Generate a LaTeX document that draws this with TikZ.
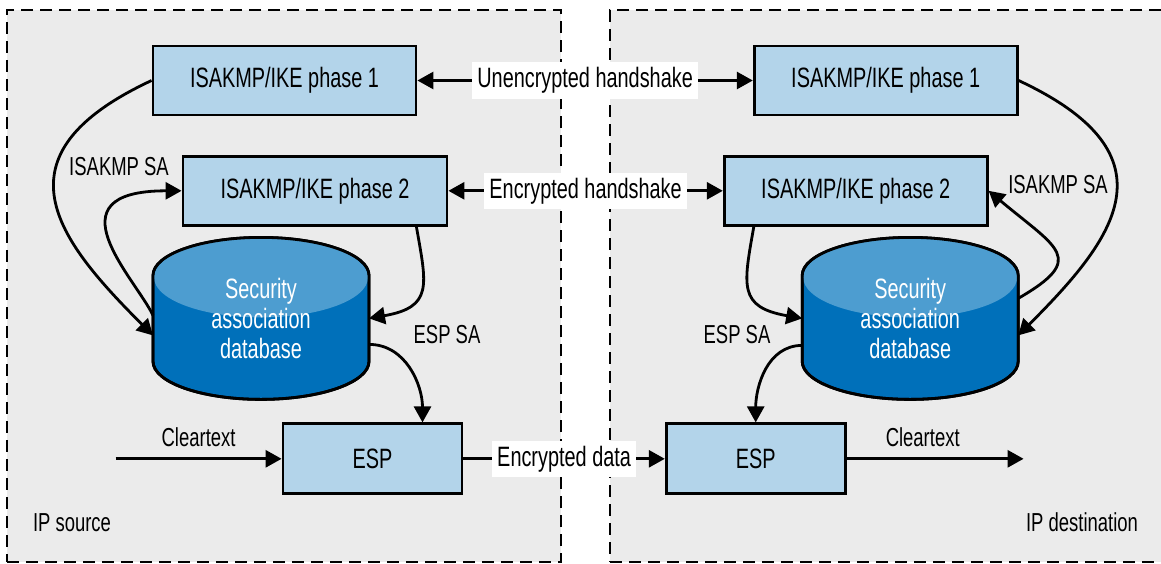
\documentclass[tikz,border=0pt]{standalone}
\usepackage{fontspec}
\setmainfont{Liberation Sans}[FakeStretch=0.71]
\usetikzlibrary{arrows.meta, positioning, backgrounds, calc}

\definecolor{zonegray}{RGB}{235,235,235}
\definecolor{boxblue}{RGB}{179,212,234}
\definecolor{dbdark}{RGB}{0,112,186}
\definecolor{dblight}{RGB}{77,157,208}

% database drum drawn round a named node
\newcommand{\drawdrum}[1]{%
    \filldraw[fill=dbdark, line width=2.8pt] ([yshift=-38pt]#1.north west) -- ([yshift=38pt]#1.south west)
        arc[start angle=180, end angle=360, x radius=108pt, y radius=38pt]
        -- ([yshift=-38pt]#1.north east)
        arc[start angle=0, end angle=180, x radius=108pt, y radius=38pt] -- cycle;
    \fill[dblight] ([yshift=-40pt]#1.north) ellipse[x radius=107pt, y radius=40pt];
    \draw[line width=2.8pt] ([yshift=-38pt]#1.north west) -- ([yshift=38pt]#1.south west)
        arc[start angle=180, end angle=360, x radius=108pt, y radius=38pt]
        -- ([yshift=-38pt]#1.north east)
        arc[start angle=0, end angle=180, x radius=108pt, y radius=38pt] -- cycle;
}

\begin{document}
\begin{tikzpicture}[
    % --- STYLES ---
    base/.style={font=\fontsize{28pt}{30pt}\selectfont},
    block/.style={base, draw, line width=2.8pt, fill=boxblue, minimum width=263pt, minimum height=69pt},
    espbox/.style={block, minimum width=179pt, minimum height=70pt},
    drum/.style={base, text=white, align=center, minimum width=216pt, minimum height=162pt, outer sep=0pt},
    zone/.style={draw, fill=zonegray, line width=1.3pt, dash pattern=on 12pt off 7pt},
    tag/.style={base, fill=white, inner xsep=5pt, inner ysep=5pt},
    lbl/.style={font=\fontsize{26pt}{28pt}\selectfont},
    arrow/.style={->, >={Triangle[length=16pt, width=17pt]}, line width=2.8pt},
    dbl arrow/.style={arrow, <->}
]
    \useasboundingbox (0,0) rectangle (1161pt,-563pt);

    % --- NODES ---

    % IP source side
    \node[block] (phase1L) at (284.5pt,-80.5pt) {ISAKMP/IKE phase 1};
    \node[block, below=38.5pt of phase1L, xshift=30.5pt, minimum width=264pt] (phase2L) {ISAKMP/IKE phase 2};
    \node[drum, below=121pt of phase1L, xshift=-23.5pt] (dbL) {Security\\association\\database};
    \node[espbox, below=23pt of dbL, xshift=111.5pt] (espL) {ESP};
    \coordinate[left=166pt of espL] (clearin);

    % IP destination side
    \node[block, right=335.4pt of phase1L] (phase1R) {ISAKMP/IKE phase 1};
    \node[block, right=274.4pt of phase2L] (phase2R) {ISAKMP/IKE phase 2};
    \node[drum, below=121pt of phase1R, xshift=24.5pt] (dbR) {Security\\association\\database};
    \node[espbox, right=201.4pt of espL] (espR) {ESP};
    \coordinate[right=177pt of espR] (clearout);

    % loose labels
    \node[lbl, anchor=base] (isakmpL) at (119pt,-175pt) {ISAKMP SA};
    \node[lbl, anchor=base] (isakmpR) at (1058pt,-193pt) {ISAKMP SA};
    \node[lbl, anchor=base] (espsaL) at (447pt,-343pt) {ESP SA};
    \node[lbl, anchor=base] (espsaR) at (737pt,-343pt) {ESP SA};
    \node[lbl, anchor=base] (srclbl) at (72pt,-531pt) {IP source};
    \node[lbl, anchor=base] (dstlbl) at (1082pt,-531pt) {IP destination};

    % --- ZONES AND DRUMS ---
    \begin{scope}[on background layer]
        \node[zone, minimum width=554pt, minimum height=552pt] (srczone) at (284pt,-286pt) {};
        \node[zone, minimum width=560pt, minimum height=552pt] (dstzone) at (890pt,-286pt) {};
        \drawdrum{dbL}
        \drawdrum{dbR}
    \end{scope}

    % --- HANDSHAKES ---
    \draw[dbl arrow] (phase1L) -- node[tag] {Unencrypted handshake} (phase1R);
    \draw[dbl arrow] (phase2L) -- node[tag] {Encrypted handshake} (phase2R);
    \draw[arrow] (espL) -- node[tag] {Encrypted data} (espR);
    \draw[arrow] (clearin) -- node[lbl, above=7pt] {Cleartext} (espL);
    \draw[arrow] (espR) -- node[lbl, above=7pt, pos=0.43] {Cleartext} (clearout);

    % --- SA LOOPS ---
    \draw[arrow] (phase1L.west) to[out=205, in=135, out distance=178pt, in distance=135pt] ([yshift=-17pt]dbL.west);
    \draw[arrow] ([yshift=3pt]dbL.west) to[out=115, in=180, out distance=40pt, in distance=135pt] (phase2L.west);
    \draw[arrow] ([xshift=-32pt]phase2L.south east) to[out=-80, in=10, out distance=60pt, in distance=65pt] (dbL.east);
    \draw[arrow] ([yshift=-26pt]dbL.east) to[out=0, in=90] ([xshift=50pt]espL.north);

    \draw[arrow] (phase1R.east) to[out=-25, in=45, out distance=178pt, in distance=135pt] ([yshift=-17pt]dbR.east);
    \draw[arrow] ([yshift=20pt]dbR.east) to[out=30, in=-40, out distance=80pt, in distance=90pt] (phase2R.east);
    \draw[arrow] ([xshift=31pt]phase2R.south west) to[out=-100, in=170, out distance=60pt, in distance=65pt] (dbR.west);
    \draw[arrow] ([yshift=-27pt]dbR.west) to[out=180, in=90] (espR.north);

\end{tikzpicture}
\end{document}
